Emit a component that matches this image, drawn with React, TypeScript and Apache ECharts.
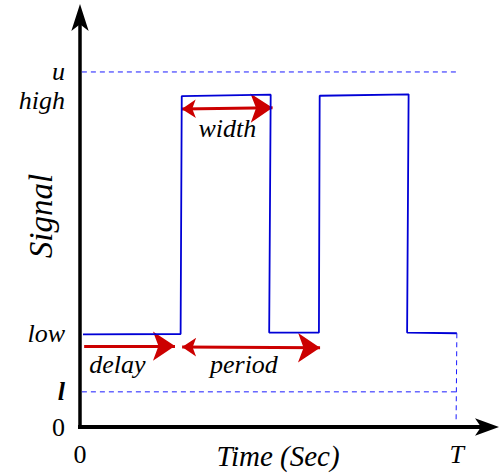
import React, { useEffect, useRef } from 'react';
import * as echarts from 'echarts';

// Tick labels on the axes
const yTickValues = [0, 0.99, 2.62, 9.2, 10];
const yTickLabels = ['0', 'l', 'low', 'high', 'u'];
const xTickValues = [0, 10];
const xTickLabels = ['0', 'T'];

// Pulse signal (time, level)
const signalX = [0.08, 2.67, 2.7, 5.06, 5.02, 6.34, 6.36, 8.72, 8.68, 10.0];
const signalY = [2.61, 2.62, 9.32, 9.36, 2.66, 2.66, 9.33, 9.37, 2.66, 2.64];

// Dashed guides
const upperLevel = 10;
const lowerLevel = 0.99;
const guideStartX = 0.05;
const guideEndX = 10.03;
const dropX = [10.0, 9.98];
const dropY = [2.64, 0.14];

// Red annotation arrows (tail/tip positions)
const singleArrowFrom = [[0.11, 2.28]];
const singleArrowTo = [[2.52, 2.28]];
const doubleArrowFrom = [[2.71, 2.25], [2.7, 8.96]];
const doubleArrowTo = [[6.37, 2.23], [5.11, 8.99]];

// Annotation texts
const noteNames = ['delay', 'period', 'width'];
const noteX = [0.99, 4.35, 3.91];
const noteY = [1.77, 1.77, 8.42];

const SERIF = 'Liberation Serif';

const rich = {
  it: { fontFamily: SERIF, fontStyle: 'italic', fontSize: 26, color: '#000' },
  bi: { fontFamily: SERIF, fontStyle: 'italic', fontWeight: 'bold', fontSize: 26, color: '#000' },
  up: { fontFamily: SERIF, fontStyle: 'normal', fontSize: 26, color: '#000' },
};

function styled(label: string) {
  if (label === '0') return '{up|0}';
  if (label === 'l') return '{bi|l}';
  return '{it|' + label + '}';
}

function lookup(values: number[], labels: string[], v: number) {
  const i = values.findIndex((a) => Math.abs(a - v) < 1e-6);
  return i < 0 ? '' : styled(labels[i]);
}

export default function App() {
  const ref = useRef<HTMLDivElement>(null);
  useEffect(() => {
    if (!ref.current) return;
    const chart = echarts.init(ref.current, null, { renderer: 'svg' });
    const dashed = { color: '#1a1aff', width: 1, type: [5, 4] as any };
    chart.setOption({
      animation: false,
      grid: { left: 80, right: 12, top: 18, bottom: 47, containLabel: false, outerBoundsMode: 'none' },
      xAxis: {
        type: 'value',
        min: 0,
        max: 10.8,
        name: 'Time (Sec)',
        nameLocation: 'middle',
        nameGap: 14,
        nameMoveOverlap: false,
        nameTextStyle: { fontFamily: SERIF, fontStyle: 'italic', fontSize: 29, color: '#000', padding: [0, 11, 0, 0] },
        axisLine: {
          show: true,
          onZero: false,
          symbol: ['none', 'arrow'],
          symbolSize: [13, 24],
          symbolOffset: [0, 12],
          lineStyle: { color: '#000', width: 4, cap: 'square' },
        },
        axisTick: { show: false },
        splitLine: { show: false },
        axisLabel: {
          customValues: xTickValues,
          margin: 14,
          formatter: (v: number) => lookup(xTickValues, xTickLabels, v),
          rich,
        },
      },
      yAxis: {
        type: 'value',
        min: 0,
        max: 11.52,
        name: 'Signal',
        nameLocation: 'middle',
        nameGap: 23,
        nameMoveOverlap: false,
        nameTextStyle: { fontFamily: SERIF, fontStyle: 'italic', fontSize: 33, color: '#000', padding: [0, 0, 0, 13] },
        axisLine: {
          show: true,
          onZero: false,
          symbol: ['none', 'arrow'],
          symbolSize: [13, 27],
          symbolOffset: [0, 14],
          lineStyle: { color: '#000', width: 3.5, cap: 'square' },
        },
        axisTick: { show: false },
        splitLine: { show: false },
        axisLabel: {
          customValues: yTickValues,
          margin: 15,
          formatter: (v: number) => lookup(yTickValues, yTickLabels, v),
          rich,
        },
      },
      series: [
        {
          type: 'line',
          data: [[guideStartX, upperLevel], [guideEndX, upperLevel]],
          symbol: 'none',
          lineStyle: dashed,
          silent: true,
        },
        {
          type: 'line',
          data: [[guideStartX, lowerLevel], [guideEndX, lowerLevel]],
          symbol: 'none',
          lineStyle: dashed,
          silent: true,
        },
        {
          type: 'line',
          data: dropX.map((x, i) => [x, dropY[i]]),
          symbol: 'none',
          lineStyle: dashed,
          silent: true,
        },
        {
          type: 'line',
          data: signalX.map((x, i) => [x, signalY[i]]),
          symbol: 'none',
          lineStyle: { color: '#0000d6', width: 1.8 },
          silent: true,
        },
        {
          type: 'lines',
          coordinateSystem: 'cartesian2d',
          symbol: ['none', 'arrow'],
          symbolSize: [14, 22],
          lineStyle: { color: '#cc0000', width: 3, opacity: 1 },
          data: singleArrowFrom.map((f, i) => ({ coords: [f, singleArrowTo[i]] })),
          silent: true,
        },
        {
          type: 'lines',
          coordinateSystem: 'cartesian2d',
          symbol: ['arrow', 'arrow'],
          symbolSize: [14, 22],
          lineStyle: { color: '#cc0000', width: 3, opacity: 1 },
          data: doubleArrowFrom.map((f, i) => ({ coords: [f, doubleArrowTo[i]] })),
          silent: true,
        },
        {
          type: 'scatter',
          symbolSize: 1,
          itemStyle: { color: 'rgba(0,0,0,0)' },
          label: {
            show: true,
            position: 'inside',
            formatter: '{b}',
            fontFamily: SERIF,
            fontStyle: 'italic',
            fontSize: 26,
            color: '#000',
            textBorderWidth: 0,
            opacity: 1,
          },
          data: noteNames.map((n, i) => ({ name: n, value: [noteX[i], noteY[i]] })),
          silent: true,
        },
      ],
    });
    return () => chart.dispose();
  }, []);
  return (
    <div
      ref={ref}
      style={{ position: 'fixed', left: 0, top: 0, width: 499, height: 474, background: '#fff' }}
    />
  );
}
